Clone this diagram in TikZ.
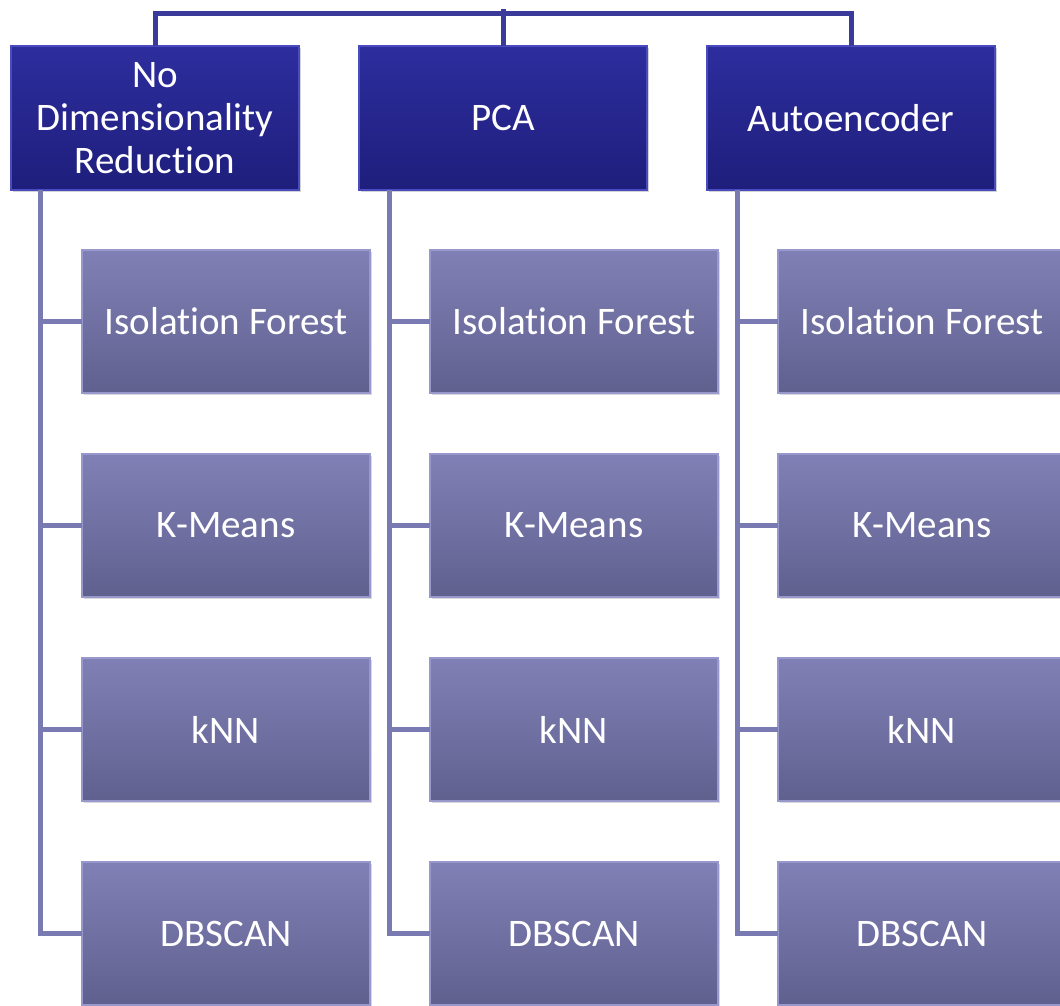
\documentclass[tikz,border=0pt]{standalone}
\usepackage{fontspec}
\setmainfont[Ligatures=NoCommon]{Carlito}
\usepackage{tikz}
\usetikzlibrary{positioning,shadows}

\definecolor{hdrtop}{HTML}{2D2D9E}
\definecolor{hdrbot}{HTML}{1E1E7C}
\definecolor{hdredge}{HTML}{4B4BC0}
\definecolor{leaftop}{HTML}{8080B6}
\definecolor{leafbot}{HTML}{60608F}
\definecolor{leafedge}{HTML}{9898CC}
\definecolor{buscol}{HTML}{3A3A9A}
\definecolor{linkcol}{HTML}{7A7AB2}

\begin{document}
\begin{tikzpicture}[
    x=1pt, y=1pt,
    font=\fontsize{39}{43}\selectfont,
    method/.style={draw=hdredge, line width=1.5pt, rectangle, top color=hdrtop, bottom color=hdrbot,
        text=white, align=center, minimum width=288pt, minimum height=144pt, inner sep=0pt, outer sep=0pt,
        drop shadow={opacity=0.35, shadow xshift=2pt, shadow yshift=-2pt}},
    algo/.style={draw=leafedge, line width=1.5pt, rectangle, top color=leaftop, bottom color=leafbot,
        text=white, align=center, minimum width=288pt, minimum height=143pt, inner sep=0pt, outer sep=0pt,
        drop shadow={opacity=0.3, shadow xshift=2pt, shadow yshift=-2pt}},
    bus/.style={draw=buscol, line width=5pt},
    link/.style={draw=linkcol, line width=5pt}
]
    \clip (0,0) rectangle (1060,-1006);

    % Reduction methods
    \node[method] (nodr) at (155,-118) {No\\Dimensionality\\Reduction};
    \node[method, right=60pt of nodr] (pca) {PCA};
    \node[method, right=60pt of pca] (ae) {Autoencoder};

    % Detectors: no reduction
    \node[algo, below=60pt of nodr, xshift=71pt] (nodr_if) {Isolation Forest};
    \node[algo, below=61pt of nodr_if] (nodr_km) {K-Means};
    \node[algo, below=61pt of nodr_km] (nodr_knn) {kNN};
    \node[algo, below=61pt of nodr_knn] (nodr_db) {DBSCAN};

    % Detectors: PCA
    \node[algo, below=60pt of pca, xshift=71pt] (pca_if) {Isolation Forest};
    \node[algo, below=61pt of pca_if] (pca_km) {K-Means};
    \node[algo, below=61pt of pca_km] (pca_knn) {kNN};
    \node[algo, below=61pt of pca_knn] (pca_db) {DBSCAN};

    % Detectors: autoencoder
    \node[algo, below=60pt of ae, xshift=71pt] (ae_if) {Isolation Forest};
    \node[algo, below=61pt of ae_if] (ae_km) {K-Means};
    \node[algo, below=61pt of ae_km] (ae_knn) {kNN};
    \node[algo, below=61pt of ae_knn] (ae_db) {DBSCAN};

    % Top bus
    \coordinate (root) at ([yshift=37pt]pca.north);
    \coordinate (busline) at ([yshift=32pt]pca.north);
    \draw[bus] (root) -- (pca.north);
    \draw[bus] (nodr.north) |- (busline) -| (ae.north);

    % Spines
    \coordinate (nodr_spine) at ([xshift=29pt]nodr.south west);
    \coordinate (pca_spine) at ([xshift=30pt]pca.south west);
    \coordinate (ae_spine) at ([xshift=30pt]ae.south west);

    \draw[link] (nodr_spine) |- (nodr_if.west);
    \draw[link] (nodr_spine) |- (nodr_km.west);
    \draw[link] (nodr_spine) |- (nodr_knn.west);
    \draw[link] (nodr_spine) |- (nodr_db.west);

    \draw[link] (pca_spine) |- (pca_if.west);
    \draw[link] (pca_spine) |- (pca_km.west);
    \draw[link] (pca_spine) |- (pca_knn.west);
    \draw[link] (pca_spine) |- (pca_db.west);

    \draw[link] (ae_spine) |- (ae_if.west);
    \draw[link] (ae_spine) |- (ae_km.west);
    \draw[link] (ae_spine) |- (ae_knn.west);
    \draw[link] (ae_spine) |- (ae_db.west);
\end{tikzpicture}
\end{document}
